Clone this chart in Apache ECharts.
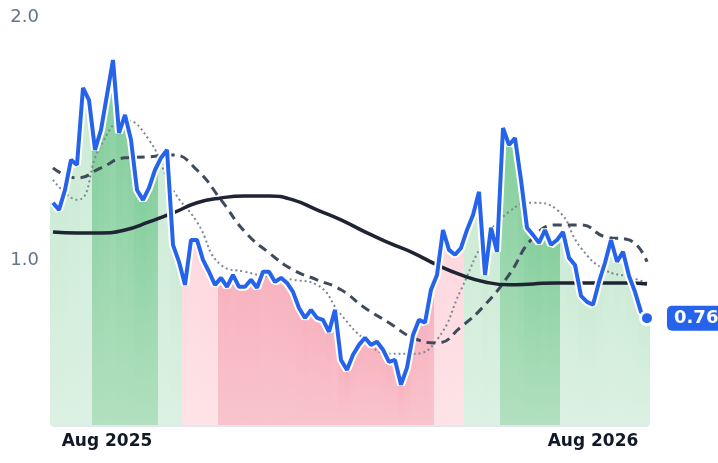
<!DOCTYPE html>
<html><head><meta charset="utf-8">
<script src="https://cdn.jsdelivr.net/npm/echarts@6/dist/echarts.min.js"></script>
<style>html,body{margin:0;padding:0;background:#fff}#c{width:718px;height:463px}</style>
</head><body><div id="c"></div>
<script>
const startDate = '2025-06-23';
const stepDays = 4.5;
const price = [1.235,1.206,1.288,1.412,1.391,1.708,1.658,1.453,1.535,1.679,1.823,1.523,1.597,1.494,1.288,1.247,1.296,1.370,1.420,1.453,
1.062,0.992,0.897,1.082,1.082,1.000,0.951,0.897,0.926,0.889,0.938,0.889,0.889,0.918,0.885,0.951,0.951,0.909,0.926,0.905,
0.868,0.802,0.761,0.794,0.761,0.753,0.704,0.794,0.588,0.547,0.609,0.650,0.679,0.650,0.663,0.630,0.580,0.588,0.486,0.556,
0.691,0.753,0.741,0.877,0.938,1.123,1.041,1.021,1.049,1.123,1.185,1.280,0.938,1.132,1.033,1.543,1.473,1.502,1.329,1.132,
1.103,1.070,1.123,1.062,1.082,1.115,1.008,0.979,0.852,0.827,0.815,0.909,0.988,1.082,0.992,1.033,0.934,0.868,0.786,0.76];
// moving averages read every 4th point (last at 99)
const maIdx = [0,4,8,12,16,20,24,28,32,36,40,44,48,52,56,60,64,68,72,76,80,84,88,92,96,99];
const maLong = [1.115,1.111,1.111,1.123,1.156,1.193,1.235,1.255,1.263,1.263,1.247,1.206,1.165,1.115,1.070,1.029,0.979,0.938,0.909,0.897,0.901,0.905,0.905,0.905,0.905,0.901];
const maMid = [1.379,1.337,1.379,1.420,1.424,1.432,1.370,1.247,1.115,1.029,0.959,0.918,0.877,0.802,0.741,0.679,0.658,0.724,0.815,0.938,1.091,1.144,1.144,1.095,1.082,0.992];
const maShort = [1.329,1.247,1.473,1.576,1.494,1.288,1.156,0.979,0.951,0.930,0.918,0.897,0.774,0.671,0.613,0.613,0.671,0.877,1.082,1.198,1.235,1.206,1.049,0.959,0.930,0.905];
const regimeStart = [0,7,18,22,28,64,69,75,85];
const regimeType = ['lg','g','lg','lp','p','lp','lg','g','lg'];
const yLabels = [1,2];

const N = price.length;
const d0 = new Date(startDate + 'T00:00:00Z');
const dates = price.map((_, i) => new Date(d0.getTime() + Math.round(i * stepDays) * 86400000));
const cats = dates.map(d => d.toISOString().slice(0, 10));
const months = ['Jan','Feb','Mar','Apr','May','Jun','Jul','Aug','Sep','Oct','Nov','Dec'];
const showIdx = new Set();
dates.forEach((d, i) => { if (d.getUTCMonth() === 7 && (i === 0 || dates[i-1].getUTCMonth() !== 7)) showIdx.add(i); });

function spread(vals) { const a = new Array(N).fill(null); maIdx.forEach((k, j) => a[k] = vals[j]); return a; }
const grad = (t, b) => ({type:'linear',x:0,y:0,x2:0,y2:1,colorStops:[{offset:0,color:t},{offset:1,color:b}]});
const fills = { lg: grad('#cdebd6','#dcf1e3'), g: grad('#86cf9e','#b2e0c0'), lp: grad('#fdd9df','#fde3e7'), p: grad('#f7b3bf','#f9c4cd') };
function regimeOf(i) { let r = 0; regimeStart.forEach((s, j) => { if (i >= s) r = j; }); return regimeType[r]; }
const barData = price.map((v, i) => ({ value: v, itemStyle: { color: fills[regimeOf(i)] } }));
const lineData = price.map((v, i) => i === N - 1 ? {
  value: v, symbol: 'circle', symbolSize: 13,
  itemStyle: { color: '#2563eb', borderColor: '#fff', borderWidth: 3 },
  label: { show: true, position: 'right', distance: 12, formatter: v.toFixed(2), color: '#fff', fontWeight: 'bold', fontSize: 18,
    fontFamily: 'DejaVu Sans', backgroundColor: '#2563eb', padding: [4, 7, 3, 7], borderRadius: 5 }
} : { value: v, symbol: 'none' });

const chart = echarts.init(document.getElementById('c'));
chart.setOption({
  animation: false,
  grid: { left: 53, right: 71, top: 17, bottom: 38 },
  xAxis: { type: 'category', data: cats, boundaryGap: false,
    axisLine: { lineStyle: { color: '#e2e8f0', width: 3 } }, axisTick: { show: false },
    axisLabel: { interval: i => showIdx.has(i), formatter: (v) => { const d = new Date(v + 'T00:00:00Z'); return months[d.getUTCMonth()] + ' ' + d.getUTCFullYear(); },
      color: '#111827', fontWeight: 'bold', fontSize: 17, fontFamily: 'DejaVu Sans', margin: 8 } },
  yAxis: { type: 'value', min: 0.32, max: 2.0, splitLine: { show: false }, axisLine: { show: false }, axisTick: { show: false },
    axisLabel: { customValues: yLabels, formatter: v => v.toFixed(1), color: '#64748b', fontSize: 18, fontFamily: 'DejaVu Sans', margin: 14 } },
  series: [
    { type: 'bar', data: barData, barWidth: '100%', barCategoryGap: '0%', silent: true },
    { type: 'line', data: spread(maShort), connectNulls: true, smooth: true, showSymbol: false, lineStyle: { color: '#7b8797', width: 2, type: [2, 3] } },
    { type: 'line', data: spread(maMid), connectNulls: true, smooth: true, showSymbol: false, lineStyle: { color: '#3f4a5c', width: 3, type: [9, 6] } },
    { type: 'line', data: spread(maLong), connectNulls: true, smooth: true, showSymbol: false, lineStyle: { color: '#1e2433', width: 3.5 } },
    { type: 'line', data: price, showSymbol: false, lineStyle: { color: '#fff', width: 8 }, silent: true },
    { type: 'line', data: lineData, showSymbol: true, showAllSymbol: true, labelLayout: { hideOverlap: false }, lineStyle: { color: '#2563eb', width: 4 } }
  ]
});
</script></body></html>
